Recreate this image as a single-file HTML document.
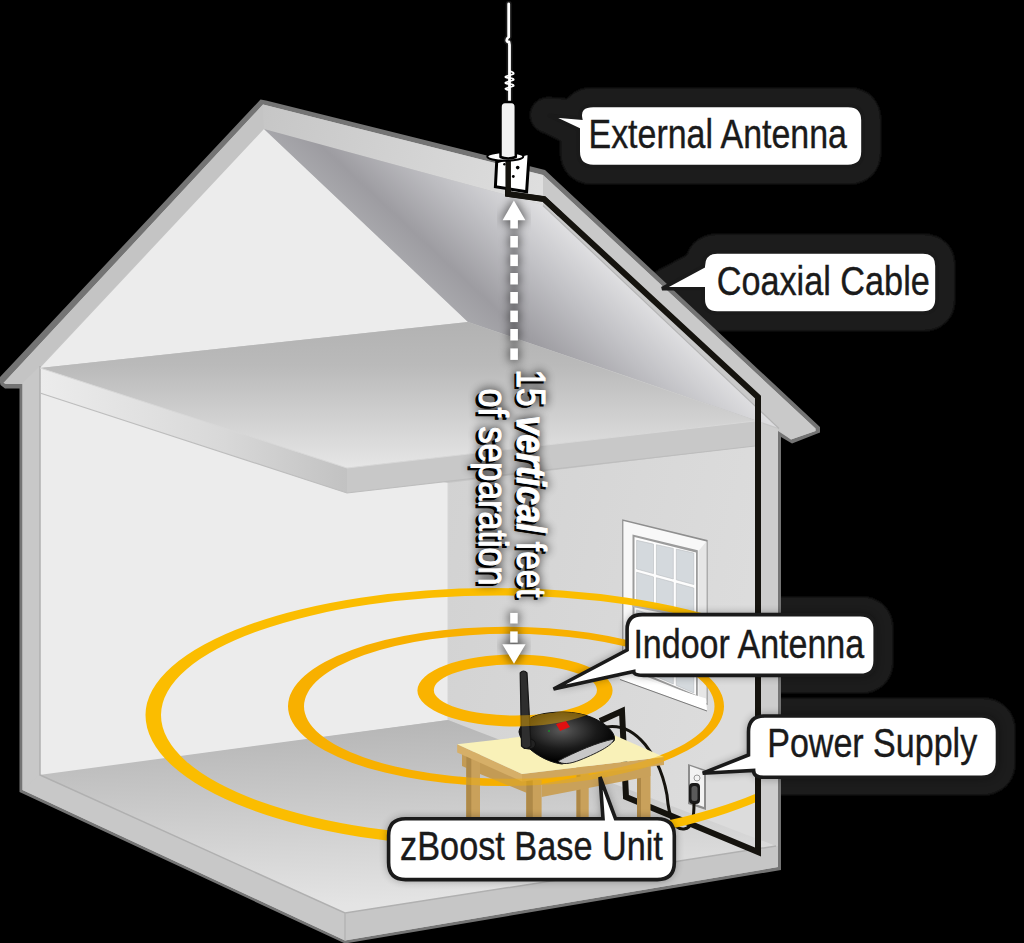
<!DOCTYPE html>
<html><head><meta charset="utf-8">
<style>
html,body{margin:0;padding:0;background:#000;width:1024px;height:943px;overflow:hidden}
svg{display:block}
text{font-family:"Liberation Sans",sans-serif}
</style></head>
<body>
<svg width="1024" height="943" viewBox="0 0 1024 943">
<defs>
  <linearGradient id="gUnder" gradientUnits="userSpaceOnUse" x1="667" y1="319" x2="571.8" y2="421.2">
    <stop offset="0" stop-color="#e0e0e2"/>
    <stop offset="0.35" stop-color="#c2c2c6"/>
    <stop offset="0.78" stop-color="#9d9ca1"/>
    <stop offset="1" stop-color="#a8a8ac"/>
  </linearGradient>
  <linearGradient id="gUnderOv" gradientUnits="userSpaceOnUse" x1="420" y1="270" x2="560" y2="400">
    <stop offset="0" stop-color="#fff" stop-opacity="0"/>
    <stop offset="1" stop-color="#fff" stop-opacity="0.4"/>
  </linearGradient>
  <linearGradient id="gRidge" gradientUnits="userSpaceOnUse" x1="261" y1="110" x2="541" y2="185">
    <stop offset="0" stop-color="#c6c6c6"/>
    <stop offset="1" stop-color="#dedede"/>
  </linearGradient>
  <linearGradient id="gSlabTop" x1="0" y1="0" x2="0" y2="1">
    <stop offset="0" stop-color="#b2b2b2"/>
    <stop offset="0.3" stop-color="#bababa"/>
    <stop offset="1" stop-color="#e6e6e6"/>
  </linearGradient>
  <linearGradient id="gSlabL" x1="0" y1="0" x2="1" y2="0">
    <stop offset="0" stop-color="#ececec"/>
    <stop offset="0.6" stop-color="#d8d8d8"/>
    <stop offset="1" stop-color="#c2c2c2"/>
  </linearGradient>
  <linearGradient id="gFloor" x1="0" y1="0" x2="0.15" y2="1">
    <stop offset="0" stop-color="#b2b2b2"/>
    <stop offset="1" stop-color="#e4e4e4"/>
  </linearGradient>
  <linearGradient id="gRwall" x1="0" y1="0" x2="1" y2="0.3">
    <stop offset="0" stop-color="#d2d2d2"/>
    <stop offset="1" stop-color="#dcdcdc"/>
  </linearGradient>
  <radialGradient id="gRouter" cx="0.45" cy="0.35" r="0.6">
    <stop offset="0" stop-color="#5a5a5a"/>
    <stop offset="0.6" stop-color="#1a1a1a"/>
    <stop offset="1" stop-color="#000"/>
  </radialGradient>
  <filter id="fBlur6" x="-20%" y="-20%" width="140%" height="140%"><feGaussianBlur stdDeviation="5"/></filter>
  <filter id="fBlur2" x="-20%" y="-20%" width="140%" height="140%"><feGaussianBlur stdDeviation="0.8"/></filter>
  <clipPath id="clipWall"><rect x="0" y="0" width="755" height="943"/></clipPath>
  <clipPath id="clipTable">
    <polygon points="457,744 598,728 664,756 664,766 651,776 651,832 466,834 457,758"/>
    <path d="M519,732 C520,722 532,715 548,713 C570,710 590,714 604,724 C612,730 616,736 614,741 C600,750 578,760 562,764 C545,762 522,748 519,732 Z"/>
    <rect x="519" y="670" width="12" height="80"/>
  </clipPath>
</defs>
<rect width="1024" height="943" fill="#000"/>
<g id="cshadow" fill="#1d1d1d" stroke="#1d1d1d" stroke-width="36" stroke-linejoin="round" filter="url(#fBlur2)">
  <path d="M593.2,105.5 L848,105.5 Q863,105.5 863,120.5 L863,151.5 Q863,166.5 848,166.5 L593.2,166.5 Q578.2,166.5 578.2,151.5 L578.2,129.5 L548,115.2 L580.5,118 Q578.2,105.5 593.2,105.5 Z"/><path d="M717.2,252 L923,252 Q937,252 937,266 L937,299 Q937,313 923,313 L717.2,313 Q703.2,313 703.2,299 L703.2,288.7 L662,288.7 L703.2,266.4 Q703.2,252 717.2,252 Z"/><path d="M642.1,614.6 L860.2,614.6 Q875.2,614.6 875.2,629.6 L875.2,660.4 Q875.2,675.4 860.2,675.4 L643.7,675.4 Q633.7,675.4 633.7,671.5 L553.5,689 L627.1,650 L627.1,629.6 Q627.1,614.6 642.1,614.6 Z"/><path d="M764.5,716 L981.5,716 Q997.5,716 997.5,732 L997.5,761.3 Q997.5,777.3 981.5,777.3 L763.6,777.3 Q753.6,777.3 753.6,770.5 L702.7,773.2 L748.5,755 L748.5,732 Q748.5,716 764.5,716 Z"/>
</g>

<g id="house">
  <polygon fill="#747474" points="-1,378 260.5,99.5 266,100.5 545,170 820,427 820,432.5 792,443.5 781,437 781,870 345,943.5 19.5,792 19.5,388.5 5,388.5 0.5,385"/>
  <polygon fill="#c6c6c6" points="4,382.5 263,104.5 543,175 815.5,428.5 815.5,431 791,439.5 778,431 778,867 345,940.5 22.5,790 22.5,384 6,384 3.5,382.8"/>
  <polygon fill="#c4c4c4" points="4,382.5 263,104.5 264,129 40,366 22.5,384 6,384 3.5,382.8"/>
  <polygon fill="url(#gRidge)" points="263,104.5 543,175 543,205 264,129"/>
  <polygon fill="#c9c9c9" points="543,175 815.5,428.5 815.5,431 791,439.5 778,429 543,205"/>
  <polygon fill="#ececec" points="40,368 264,129 468,322"/>
  <polygon fill="url(#gUnder)" points="264,129 543,205 779,428 468,322"/>
  <polyline fill="none" stroke="#b4b4b4" stroke-width="1.2" points="543,205.5 779,428.5"/>
  <polygon fill="#e2e2e2" points="468,322 779,429 755,421"/>
  <polygon fill="#c8c8c8" points="22.5,383 40,366 40,775 22.5,790"/>
  <polygon fill="#ececec" points="40,393 448,483 448,720 40,776"/>
  <polygon fill="url(#gRwall)" points="448,483 755,446 755,847 448,720"/>
  <polygon fill="#cdcdcd" points="755,421 778,429 778,867 755,846"/>
  <polygon fill="url(#gSlabTop)" points="40,368 468,322 755,421 347,468"/>
  <polygon fill="url(#gSlabL)" points="40,368 347,468 347,493 40,393"/>
  <polygon fill="#c8c8c8" points="347,468 755,421 755,446 347,493"/>
  <polygon fill="url(#gFloor)" points="39,775 448,720 776,846 345,913"/>
  <polygon fill="#c8c8c8" points="22.5,790 39,775 345,913 345,940.5"/>
  <polygon fill="#c6c6c6" points="345,913 778,846 778,867 345,940.5"/>
  <polyline fill="none" stroke="#b0b0b0" stroke-width="1.5" points="40,366 40,775 345,913 776,846"/>
  <polyline fill="none" stroke="#bdbdbd" stroke-width="1.2" points="40,393 347,493 755,446"/>
  <polyline fill="none" stroke="#d8d8d8" stroke-width="1" points="40,368 347,468 755,421"/>
  <line x1="345" y1="913" x2="345" y2="940" stroke="#b4b4b4" stroke-width="1.5"/>
  <line x1="448" y1="483" x2="448" y2="720" stroke="#d6d6d6" stroke-width="1"/>
</g>
<g id="window">
  <polygon fill="#8e8e8e" points="622.2,519.3 707.6,540 707.6,705 622.2,676"/>
  <polygon fill="#f8f8f8" points="623.4,521 706.4,541.6 706.4,703 623.4,674"/>
  <polygon fill="#e6e6e6" points="698.5,551 706.4,541.6 706.4,703 698.5,697"/>
  <polygon fill="#9c9c9c" points="632.5,534.5 697.8,550.3 697.8,697 632.5,671"/>
  <polygon fill="#fdfdfd" points="634.5,537 696,552.5 696,695 634.5,669"/>
  <g fill="#d4d9dd" stroke="#b8bcc0" stroke-width="0.6"><polygon points="636.6,540.3 653.5,544.1 653.5,573.6 636.6,569.0"/><polygon points="636.6,572.2 653.5,576.9 653.5,605.8 636.6,600.3"/><polygon points="636.6,609.9 653.5,615.6 653.5,644.5 636.6,638.0"/><polygon points="636.6,641.2 653.5,647.8 653.5,675.4 636.6,668.0"/><polygon points="656.4,544.7 673.3,548.4 673.3,579.0 656.4,574.4"/><polygon points="656.4,577.7 673.3,582.3 673.3,612.2 656.4,606.7"/><polygon points="656.4,616.6 673.3,622.3 673.3,652.2 656.4,645.6"/><polygon points="656.4,648.9 673.3,655.6 673.3,684.0 656.4,676.7"/><polygon points="676.3,549.1 693.8,553.0 693.8,584.5 676.3,579.8"/><polygon points="676.3,583.2 693.8,588.0 693.8,618.8 676.3,613.1"/><polygon points="676.3,623.4 693.8,629.3 693.8,660.1 676.3,653.3"/><polygon points="676.3,656.7 693.8,663.6 693.8,693.0 676.3,685.4"/></g>
  <polygon fill="#b4b4b4" points="632.5,601 697.8,614 697.8,620 632.5,607"/>
  <polygon fill="#ffffff" points="618,671 706,698.5 707,710.6 620,679"/>
  <polyline fill="none" stroke="#7a7a7a" stroke-width="1" points="620,679.5 707,711"/>
</g>
<g id="outlet">
  <polygon fill="#8c8c8c" points="688,764 706,770 706,810 688,804"/>
  <polygon fill="#f2f2f2" points="690,766 704,771 704,807 690,802"/>
  <circle cx="697" cy="778" r="3" fill="none" stroke="#9a9a9a" stroke-width="1"/>
  <rect x="689" y="783" width="11" height="21" rx="4" fill="#1a1a1a"/>
  <rect x="691.5" y="786" width="6" height="15" rx="2.5" fill="#5a5a5a"/>
</g>
<polyline fill="none" stroke="#15130e" stroke-width="6" stroke-linejoin="miter" points="508,160 508,194 544,199 758,397 758,420"/>
<g id="cables" fill="none" stroke="#15130e" stroke-linejoin="miter">
  <polyline stroke-width="6" points="758,397 758,852 626,797 622,711 600,721"/>
  <path stroke-width="3" d="M606,727 C636,722 660,756 667,795 C669,818 674,830 684,829 C693,828 694,816 694,803"/>
</g>

<g id="rings">
  <path fill="#fbbd00" fill-rule="evenodd" clip-path="url(#clipWall)" d="M145.5,715 A348.5,127 0 0,1 842.5,715 A348.5,132 0 0,1 145.5,715 Z M161,715 A337,119.5 0 0,1 835,715 A337,122 0 0,1 161,715 Z"/>
  <path fill="#f8b000" fill-rule="evenodd" d="M288,706.3 A218,79.7 0 0,1 724,706.3 A218,79.7 0 0,1 288,706.3 Z M304.0,706.3 A205.25,72.5 0 0,1 714.5,706.3 A205.25,72.5 0 0,1 304.0,706.3 Z"/>
  <path fill="#fab300" fill-rule="evenodd" d="M417.4,690.5 A97.6,36 0 0,1 612.6,690.5 A97.6,36 0 0,1 417.4,690.5 Z M433.79999999999995,690 A81.6,25.5 0 0,1 597.0,690 A81.6,25.5 0 0,1 433.79999999999995,690 Z"/>
</g>

<g id="table">
  <rect x="576.5" y="745" width="12.2" height="85" fill="#c9a15b"/>
  <rect x="576.5" y="745" width="4" height="85" fill="#ad8746"/>
  <rect x="637" y="762" width="13.5" height="70" fill="#c9a15b"/>
  <rect x="637" y="762" width="4" height="70" fill="#ad8746"/>
  <polygon fill="#c39b55" points="462,752 527,781 527,793 480,774 462,766"/>
  <polygon fill="#c9a15a" points="541.6,784 650.5,763 650.5,776 541.6,797"/>
  <rect x="466.3" y="752" width="13.7" height="82" fill="#c9a15b"/>
  <rect x="466.3" y="752" width="5" height="82" fill="#ae8948"/>
  <rect x="526.3" y="780" width="15.3" height="54" fill="#c9a15b"/>
  <rect x="526.3" y="780" width="6.5" height="54" fill="#ae8948"/>
  <polygon fill="#d6af68" points="457.2,744.2 522,774 522,781.5 457.2,752.5"/>
  <polygon fill="#d0a75e" points="522,774 664,757 664,765 522,781.5"/>
  <polygon fill="#f9f1b8" points="457.2,744.2 598,728 664,757 522,774"/>
</g>

<g id="router">
  <path fill="url(#gRouter)" stroke="#111" stroke-width="1" d="M519,732 C520,722 532,715 548,713 C570,710 590,714 604,724 C612,730 616,736 614,741 C600,750 578,760 562,764 C545,762 522,748 519,732 Z"/>
  <path fill="#c8c8c8" stroke="#222" stroke-width="1" d="M558,761 C575,752 598,742 614,739 C614,744 600,752 580,760 C570,764 562,765 558,761 Z"/>
  <polygon fill="#e01010" points="556,724 566,721 570,727 560,731"/>
  <circle cx="549" cy="731" r="1" fill="#1a8a2a"/>
  <ellipse cx="529" cy="744" rx="6.5" ry="5" fill="#222" stroke="#111" stroke-width="1"/>
  <path d="M520.2,673 Q523.5,669 527,673 L531,746 Q526,751 521.5,746 Z" fill="#2e2e2e" stroke="#151515" stroke-width="1.2"/>
</g>

<g opacity="0.45" clip-path="url(#clipTable)">
  <path fill="#f4b400" fill-rule="evenodd" clip-path="url(#clipWall)" d="M145.5,715 A348.5,127 0 0,1 842.5,715 A348.5,132 0 0,1 145.5,715 Z M161,715 A337,119.5 0 0,1 835,715 A337,122 0 0,1 161,715 Z"/>
  <path fill="#f4b000" fill-rule="evenodd" d="M288,706.3 A218,79.7 0 0,1 724,706.3 A218,79.7 0 0,1 288,706.3 Z M304.0,706.3 A205.25,72.5 0 0,1 714.5,706.3 A205.25,72.5 0 0,1 304.0,706.3 Z"/>
  <path fill="#f4b000" fill-rule="evenodd" d="M417.4,690.5 A97.6,36 0 0,1 612.6,690.5 A97.6,36 0 0,1 417.4,690.5 Z M433.79999999999995,690 A81.6,25.5 0 0,1 597.0,690 A81.6,25.5 0 0,1 433.79999999999995,690 Z"/>
</g>

<g id="arrow">
  <g fill="#000" stroke="#000" stroke-width="3" opacity="0.55" filter="url(#fBlur6)"><polygon points="513.9,200.5 525.4,220.3 502.6,220.3"/><rect x="510.3" y="236" width="7.6" height="11.5"/><rect x="510.3" y="254.6" width="7.6" height="11.5"/><rect x="510.3" y="273" width="7.6" height="11.5"/><rect x="510.3" y="292" width="7.6" height="11.5"/><rect x="510.3" y="310.6" width="7.6" height="11.5"/><rect x="510.3" y="329" width="7.6" height="11.5"/><rect x="510.3" y="348.4" width="7.6" height="11.5"/><rect x="510.3" y="219" width="7.6" height="9.5"/><rect x="510.2" y="612.9" width="7.5" height="10.6"/><rect x="510.2" y="631.4" width="7.5" height="11.2"/><polygon points="502.3,644.2 525.6,644.2 514,663.8"/></g>
  <g fill="#fff"><polygon points="513.9,200.5 525.4,220.3 502.6,220.3"/><rect x="510.3" y="236" width="7.6" height="11.5"/><rect x="510.3" y="254.6" width="7.6" height="11.5"/><rect x="510.3" y="273" width="7.6" height="11.5"/><rect x="510.3" y="292" width="7.6" height="11.5"/><rect x="510.3" y="310.6" width="7.6" height="11.5"/><rect x="510.3" y="329" width="7.6" height="11.5"/><rect x="510.3" y="348.4" width="7.6" height="11.5"/><rect x="510.3" y="219" width="7.6" height="9.5"/><rect x="510.2" y="612.9" width="7.5" height="10.6"/><rect x="510.2" y="631.4" width="7.5" height="11.2"/><polygon points="502.3,644.2 525.6,644.2 514,663.8"/></g>
</g>

<g id="vtext" transform="translate(516.8,369.5) rotate(90)" font-size="41.5">
  <g filter="url(#fBlur6)" opacity="0.75" fill="#000" stroke="#000" stroke-width="3"><text x="0" y="0" textLength="228" lengthAdjust="spacingAndGlyphs"><tspan>15 </tspan><tspan font-weight="bold" font-style="italic">vertical</tspan><tspan> feet</tspan></text>
    <text x="19" y="38.2" textLength="197" lengthAdjust="spacingAndGlyphs">of separation</text></g>
  <g fill="#000" stroke="#000" stroke-width="1.1" transform="translate(2.2,2.2)"><text x="0" y="0" textLength="228" lengthAdjust="spacingAndGlyphs"><tspan>15 </tspan><tspan font-weight="bold" font-style="italic">vertical</tspan><tspan> feet</tspan></text>
    <text x="19" y="38.2" textLength="197" lengthAdjust="spacingAndGlyphs">of separation</text></g>
  <g fill="#fff" stroke="#fff" stroke-width="1.1"><text x="0" y="0" textLength="228" lengthAdjust="spacingAndGlyphs"><tspan>15 </tspan><tspan font-weight="bold" font-style="italic">vertical</tspan><tspan> feet</tspan></text>
    <text x="19" y="38.2" textLength="197" lengthAdjust="spacingAndGlyphs">of separation</text></g>
</g>

<g id="antenna" stroke-linejoin="round" stroke-linecap="round">
  <path fill="none" stroke="#1c1c1c" stroke-width="6" d="M508.7,4 L508.7,37 C506,39 506,42 509,42 L509.5,45 L509.5,104"/>
  <path fill="none" stroke="#fff" stroke-width="2.8" d="M508.7,4 L508.7,37 C506,39 506,42 509,42 L509.5,45 L509.5,104"/>
  <path fill="none" stroke="#fff" stroke-width="1.7" d="M509.5,71 Q514.5,72.5 513.5,74 Q509,75.5 505.5,76.5 Q504.5,77.5 509.5,78 Q514.5,78.5 513.5,80 Q509,81.5 505.5,82.5 Q504.5,83.5 509.5,84 Q514.5,84.5 513.5,86 Q509,87.5 505.5,88.5 Q505,89.5 509.5,90"/>
  <polygon points="496.7,161.9 529.2,153 526.6,191.8 495.4,186.7" fill="#fff" stroke="#000" stroke-width="3" stroke-linejoin="miter"/>
  <circle cx="517.7" cy="167.6" r="1.8" fill="#000" stroke="none"/>
  <circle cx="513.3" cy="176.5" r="1.4" fill="#000" stroke="none"/>
  <circle cx="504.4" cy="164.3" r="1.2" fill="#000" stroke="none"/>
  <polyline fill="none" stroke="#15130e" stroke-width="5.5" stroke-linejoin="miter" stroke-linecap="butt" points="508.2,158 508.2,194 544,199 560,214"/>
  <ellipse cx="505.3" cy="156.5" rx="18" ry="4.2" fill="#fff" stroke="#000" stroke-width="2"/>
  <path d="M500.5,157 L500.5,107 Q500.5,102 505,102 L511.5,102 Q515.8,102 515.8,107 L515.8,157 Q508,160 500.5,157 Z" fill="#f2f2f2" stroke="#000" stroke-width="2.5"/>
</g>

<g id="callouts" font-size="41" fill="#1a1a1a">
  <g filter="url(#fBlur6)" opacity="0.45" fill="#000"><path d="M642.1,614.6 L860.2,614.6 Q875.2,614.6 875.2,629.6 L875.2,660.4 Q875.2,675.4 860.2,675.4 L643.7,675.4 Q633.7,675.4 633.7,671.5 L553.5,689 L627.1,650 L627.1,629.6 Q627.1,614.6 642.1,614.6 Z"/><path d="M764.5,716 L981.5,716 Q997.5,716 997.5,732 L997.5,761.3 Q997.5,777.3 981.5,777.3 L763.6,777.3 Q753.6,777.3 753.6,770.5 L702.7,773.2 L748.5,755 L748.5,732 Q748.5,716 764.5,716 Z"/><path d="M405.6,818.7 L603,818.7 L600,777 L615.5,818.7 L657.3,818.7 Q674.3,818.7 674.3,835.7 L674.3,862.6 Q674.3,879.6 657.3,879.6 L405.6,879.6 Q388.6,879.6 388.6,862.6 L388.6,835.7 Q388.6,818.7 405.6,818.7 Z"/></g>
  <g fill="#fff" stroke="#1a1a1a" stroke-width="3.6" stroke-linejoin="miter">
    <path d="M593.2,105.5 L848,105.5 Q863,105.5 863,120.5 L863,151.5 Q863,166.5 848,166.5 L593.2,166.5 Q578.2,166.5 578.2,151.5 L578.2,129.5 L548,115.2 L580.5,118 Q578.2,105.5 593.2,105.5 Z"/><path d="M717.2,252 L923,252 Q937,252 937,266 L937,299 Q937,313 923,313 L717.2,313 Q703.2,313 703.2,299 L703.2,288.7 L662,288.7 L703.2,266.4 Q703.2,252 717.2,252 Z"/><path d="M642.1,614.6 L860.2,614.6 Q875.2,614.6 875.2,629.6 L875.2,660.4 Q875.2,675.4 860.2,675.4 L643.7,675.4 Q633.7,675.4 633.7,671.5 L553.5,689 L627.1,650 L627.1,629.6 Q627.1,614.6 642.1,614.6 Z"/><path d="M764.5,716 L981.5,716 Q997.5,716 997.5,732 L997.5,761.3 Q997.5,777.3 981.5,777.3 L763.6,777.3 Q753.6,777.3 753.6,770.5 L702.7,773.2 L748.5,755 L748.5,732 Q748.5,716 764.5,716 Z"/><path d="M405.6,818.7 L603,818.7 L600,777 L615.5,818.7 L657.3,818.7 Q674.3,818.7 674.3,835.7 L674.3,862.6 Q674.3,879.6 657.3,879.6 L405.6,879.6 Q388.6,879.6 388.6,862.6 L388.6,835.7 Q388.6,818.7 405.6,818.7 Z"/>
  </g>
  <g stroke="#1a1a1a" stroke-width="0.4">
  <text x="588.5" y="147.5" textLength="258.4" lengthAdjust="spacingAndGlyphs">External Antenna</text>
  <text x="716.7" y="295" textLength="213.1" lengthAdjust="spacingAndGlyphs">Coaxial Cable</text>
  <text x="633.4" y="658" textLength="230.8" lengthAdjust="spacingAndGlyphs">Indoor Antenna</text>
  <text x="767.2" y="757" textLength="210" lengthAdjust="spacingAndGlyphs">Power Supply</text>
  <text x="400.1" y="860.2" textLength="262.8" lengthAdjust="spacingAndGlyphs">zBoost Base Unit</text>
  </g>
</g>
</svg>
</body></html>
